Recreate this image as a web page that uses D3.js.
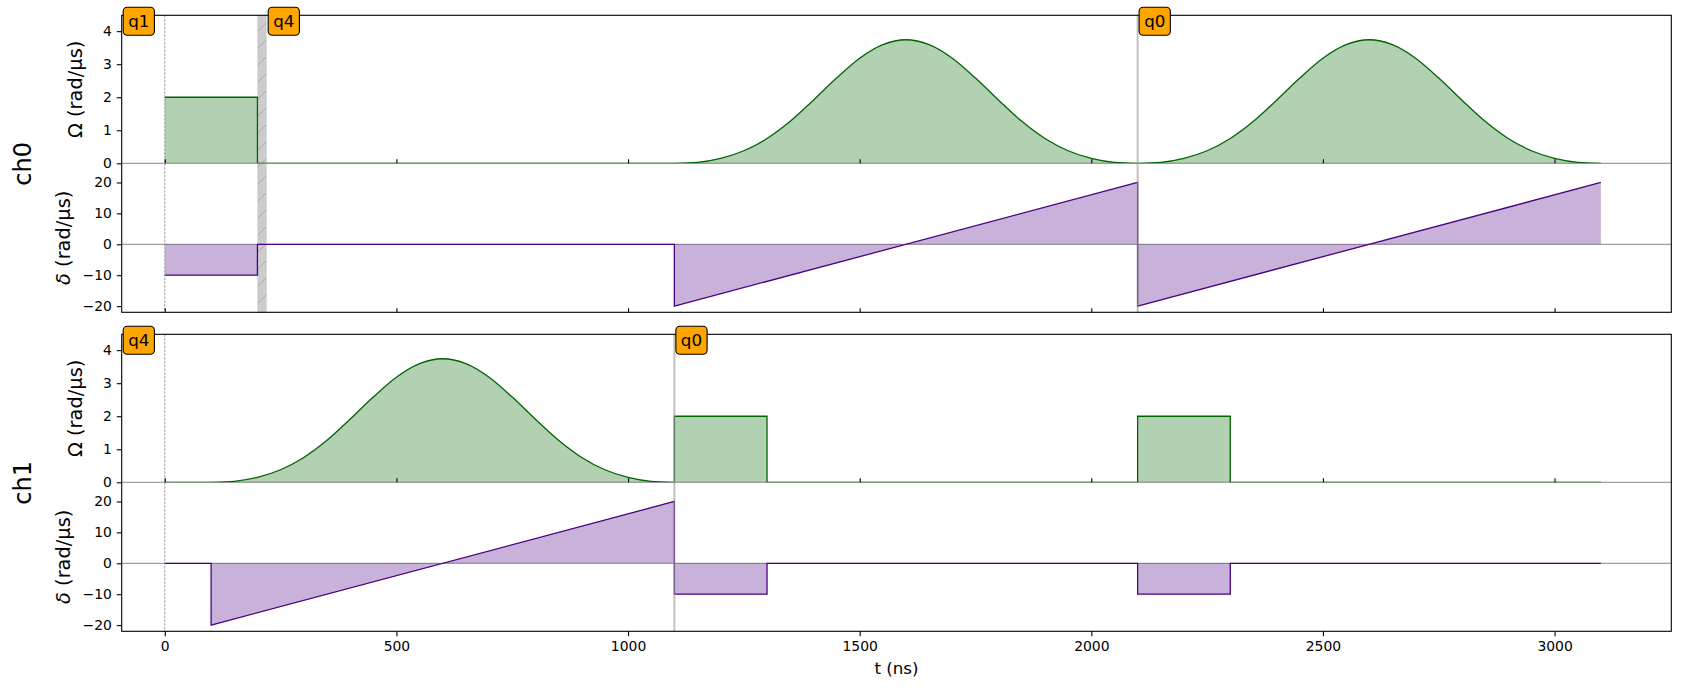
<!DOCTYPE html>
<meta charset="UTF-8">
<style>
    body { margin: 0; background: #fff; }
    text { font-family: "DejaVu Sans", sans-serif; }
</style>
<body>
<div id="chart"></div>
<script src="https://d3js.org/d3.v7.min.js"></script>
<script>

// tick labels
var tTicks = [0, 500, 1000, 1500, 2000, 2500, 3000];
var omegaTicks = [0, 1, 2, 3, 4];
var deltaTicks = [-20, -10, 0, 10, 20];
var channels = ["ch0", "ch1"];

// Blackman envelope read every 50 ns over a 1000 ns pulse (rad/µs)
var blackman = [0, 0.03, 0.15, 0.38, 0.75, 1.27, 1.91, 2.58, 3.18, 3.59, 3.74,
                3.59, 3.18, 2.58, 1.91, 1.27, 0.75, 0.38, 0.15, 0.03, 0];

// Rabi frequency segments: [start ns, end ns, value or "blackman"]
var ch0Omega = [[0, 200, 2], [200, 1100, 0], [1100, 2100, "blackman"], [2100, 3100, "blackman"]];
var ch1Omega = [[0, 100, 0], [100, 1100, "blackman"], [1100, 1300, 2], [1300, 2100, 0],
                [2100, 2300, 2], [2300, 3100, 0]];

// detuning segments: [start ns, end ns, value at start, value at end]
var ch0Delta = [[0, 200, -10, -10], [200, 1100, 0, 0], [1100, 2100, -20, 20], [2100, 3100, -20, 20]];
var ch1Delta = [[0, 100, 0, 0], [100, 1100, -20, 20], [1100, 1300, -10, -10], [1300, 2100, 0, 0],
                [2100, 2300, -10, -10], [2300, 3100, 0, 0]];

// target annotations: [time ns, qubit]
var ch0Targets = [[0, "q1"], [220, "q4"], [2100, "q0"]];
var ch1Targets = [[0, "q4"], [1100, "q0"]];

// retarget intervals and phase marks (ns)
var ch0Retarget = [[200, 220]];
var ch1Retarget = [];
var ch0Marks = [2100];
var ch1Marks = [1100];

var chanData = [
    {name: channels[0], omega: ch0Omega, delta: ch0Delta, targets: ch0Targets, retarget: ch0Retarget, marks: ch0Marks},
    {name: channels[1], omega: ch1Omega, delta: ch1Delta, targets: ch1Targets, retarget: ch1Retarget, marks: ch1Marks}
];

// layout
var width = 1692, height = 688;
var left = 121.7, right = 1671.3;
var panelTop = [15.3, 334.3];
var omegaH = 148, deltaH = 149;
var fmt = d3.format("d");

var svg = d3.select("#chart").append("svg")
    .attr("width", width)
    .attr("height", height);

var defs = svg.append("defs");
var pat = defs.append("pattern")
    .attr("id", "hatch")
    .attr("patternUnits", "userSpaceOnUse")
    .attr("width", 17).attr("height", 17);
pat.append("rect").attr("width", 17).attr("height", 17).attr("fill", "#cccccc");
pat.append("path")
    .attr("d", "M-4,4L4,-4M0,17L17,0M13,21L21,13")
    .attr("stroke", "#a9a9a9").attr("stroke-width", 1);

var x = d3.scaleLinear().domain([-93, 3252]).range([left, right]);

function pieces(segs, kind) {
    return segs.map(function(s) {
        if (kind === "omega" && s[2] === "blackman") {
            var n = blackman.length - 1;
            return {curve: d3.curveMonotoneX,
                    pts: blackman.map(function(v, i) { return [s[0] + i * (s[1] - s[0]) / n, v]; })};
        }
        if (kind === "omega") return {curve: d3.curveLinear, pts: [[s[0], s[2]], [s[1], s[2]]]};
        return {curve: d3.curveLinear, pts: [[s[0], s[2]], [s[1], s[3]]]};
    });
}

function joinPaths(list) {
    return list.map(function(d, i) { return i ? d.replace(/^M/, "L") : d; }).join("");
}

chanData.forEach(function(ch, k) {
    var top = panelTop[k], mid = top + omegaH, bottom = mid + deltaH;
    var yO = d3.scaleLinear().domain([0, 4.48]).range([mid, top]);
    var yD = d3.scaleLinear().domain([-22, 26.2]).range([bottom, mid]);
    var g = svg.append("g");

    // clips
    defs.append("clipPath").attr("id", "clipO" + k)
        .append("rect").attr("x", left).attr("y", top).attr("width", right - left).attr("height", mid - top);
    defs.append("clipPath").attr("id", "clipD" + k)
        .append("rect").attr("x", left).attr("y", mid).attr("width", right - left).attr("height", bottom - mid);

    // retarget span
    g.selectAll(".span").data(ch.retarget).enter().append("rect")
        .attr("x", function(d) { return x(d[0]); })
        .attr("width", function(d) { return x(d[1]) - x(d[0]); })
        .attr("y", top).attr("height", bottom - top)
        .attr("fill", "url(#hatch)")
        .attr("stroke", "#dddddd").attr("stroke-width", 0.8);

    // zero lines
    g.append("line").attr("x1", left).attr("x2", right).attr("y1", yO(0)).attr("y2", yO(0))
        .attr("stroke", "#a0a0a0").attr("stroke-width", 1.3);
    g.append("line").attr("x1", left).attr("x2", right).attr("y1", yD(0)).attr("y2", yD(0))
        .attr("stroke", "#a0a0a0").attr("stroke-width", 1.3);

    // omega
    var po = pieces(ch.omega, "omega");
    var gO = g.append("g").attr("clip-path", "url(#clipO" + k + ")");
    gO.append("path")
        .attr("d", po.map(function(p) {
            return d3.area().curve(p.curve).x(function(d) { return x(d[0]); })
                .y0(yO(0)).y1(function(d) { return yO(d[1]); })(p.pts);
        }).join(""))
        .attr("fill", "darkgreen").attr("fill-opacity", 0.3);
    gO.append("path")
        .attr("d", joinPaths(po.map(function(p) {
            return d3.line().curve(p.curve).x(function(d) { return x(d[0]); })
                .y(function(d) { return yO(d[1]); })(p.pts);
        })))
        .attr("fill", "none").attr("stroke", "darkgreen").attr("stroke-width", 1.3);

    // delta
    var pd = pieces(ch.delta, "delta");
    var gD = g.append("g").attr("clip-path", "url(#clipD" + k + ")");
    gD.append("path")
        .attr("d", pd.map(function(p) {
            return d3.area().x(function(d) { return x(d[0]); })
                .y0(yD(0)).y1(function(d) { return yD(d[1]); })(p.pts);
        }).join(""))
        .attr("fill", "indigo").attr("fill-opacity", 0.3);
    gD.append("path")
        .attr("d", joinPaths(pd.map(function(p) {
            return d3.line().x(function(d) { return x(d[0]); })
                .y(function(d) { return yD(d[1]); })(p.pts);
        })))
        .attr("fill", "none").attr("stroke", "indigo").attr("stroke-width", 1.3);

    // phase marks and start line
    g.selectAll(".mark").data(ch.marks).enter().append("line")
        .attr("x1", function(d) { return x(d); }).attr("x2", function(d) { return x(d); })
        .attr("y1", top).attr("y2", bottom)
        .attr("stroke", "#9a9a9a").attr("stroke-opacity", 0.6).attr("stroke-width", 2);
    g.append("line")
        .attr("x1", x(0)).attr("x2", x(0)).attr("y1", top).attr("y2", bottom)
        .attr("stroke", "#777").attr("stroke-width", 0.7).attr("stroke-dasharray", "2.6,1.2");

    // y axes
    var axO = g.append("g").attr("transform", "translate(" + left + ",0)")
        .call(d3.axisLeft(yO).tickValues(omegaTicks).tickFormat(fmt).tickSize(4.9).tickPadding(4.9));
    var axD = g.append("g").attr("transform", "translate(" + left + ",0)")
        .call(d3.axisLeft(yD).tickValues(deltaTicks).tickFormat(fmt).tickSize(4.9).tickPadding(4.9));
    [axO, axD].forEach(function(a) {
        a.attr("font-size", 13.9).attr("font-family", "DejaVu Sans");
        a.select(".domain").remove();
        a.selectAll(".tick line").attr("stroke-width", 1.1);
    });

    // inner x ticks
    [mid, bottom].forEach(function(yy, j) {
        if (k === 1 && j === 1) return;
        var a = g.append("g").attr("transform", "translate(0," + yy + ")")
            .call(d3.axisBottom(x).tickValues(tTicks).tickSize(-4).tickFormat(""));
        a.select(".domain").remove();
        a.selectAll(".tick line").attr("stroke-width", 1.1);
    });
    if (k === 1) {
        var ax = g.append("g").attr("transform", "translate(0," + bottom + ")")
            .call(d3.axisBottom(x).tickValues(tTicks).tickFormat(fmt).tickSize(4.9).tickPadding(4.9));
        ax.attr("font-size", 13.9).attr("font-family", "DejaVu Sans");
        ax.select(".domain").remove();
        ax.selectAll(".tick line").attr("stroke-width", 1.1);
    }

    // spines
    g.append("rect").attr("x", left).attr("y", top)
        .attr("width", right - left).attr("height", bottom - top)
        .attr("fill", "none").attr("stroke", "black").attr("stroke-width", 1.1);

    // axis labels
    g.append("text")
        .attr("transform", "translate(75.5," + (top + mid) / 2 + ") rotate(-90)")
        .attr("text-anchor", "middle").attr("dominant-baseline", "central")
        .attr("font-size", 19.4)
        .text("Ω (rad/µs)");
    var dl = g.append("text")
        .attr("transform", "translate(63.3," + (mid + bottom) / 2 + ") rotate(-90)")
        .attr("text-anchor", "middle").attr("dominant-baseline", "central")
        .attr("font-size", 19.4);
    dl.append("tspan").attr("font-style", "italic").text("δ");
    dl.append("tspan").text(" (rad/µs)");
    g.append("text")
        .attr("transform", "translate(22.5," + (top + bottom) / 2 + ") rotate(-90)")
        .attr("text-anchor", "middle").attr("dominant-baseline", "central")
        .attr("font-size", 24)
        .text(ch.name);

    // target boxes
    ch.targets.forEach(function(t) {
        var bx = (t[0] === 0 ? left : x(t[0])) + 1.5;
        var by = top - 8;
        var tb = g.append("g");
        var rect = tb.append("rect");
        var txt = tb.append("text")
            .attr("x", bx + 5).attr("y", by + 14)
            .attr("dominant-baseline", "central")
            .attr("font-size", 16.7)
            .text(t[1]);
        var w = txt.node().getComputedTextLength() + 10;
        rect.attr("x", bx).attr("y", by).attr("width", w).attr("height", 28)
            .attr("rx", 4).attr("fill", "#FFA500")
            .attr("stroke", "black").attr("stroke-width", 1.1);
    });
});

// x label
svg.append("text")
    .attr("x", (left + right) / 2).attr("y", 674)
    .attr("text-anchor", "middle")
    .attr("font-size", 16.7)
    .text("t (ns)");

</script>
</body>
